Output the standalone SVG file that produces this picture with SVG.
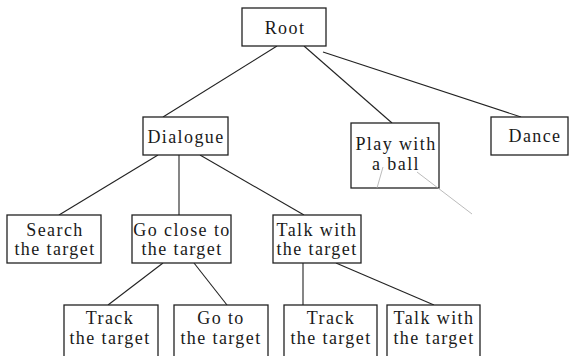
<svg xmlns="http://www.w3.org/2000/svg" width="572" height="356" viewBox="0 0 572 356">
<style>
.box{fill:#fff;stroke:#222;stroke-width:1.3}
.t{font-family:"Liberation Serif","Times New Roman",serif;font-size:18px;letter-spacing:1.4px;fill:#1a1a1a;text-anchor:middle}
.c line{stroke:#222;stroke-width:1.1}
.c line.g{stroke:#aaa;stroke-width:0.8}
</style>
<rect width="572" height="356" fill="#fff"/>
<g class="c" id="connectors">
<line x1="277" y1="46" x2="163" y2="117"/>
<line x1="304" y1="46" x2="392" y2="123"/>
<line x1="323" y1="52" x2="521" y2="117"/>
<line x1="158" y1="155" x2="59" y2="215"/>
<line x1="179" y1="155" x2="179" y2="215"/>
<line x1="200" y1="155" x2="304" y2="215"/>
<line x1="163" y1="263" x2="108" y2="305"/>
<line x1="194" y1="263" x2="227" y2="305"/>
<line x1="303" y1="263" x2="303" y2="305"/>
<line x1="336" y1="263" x2="434" y2="305"/>
</g>
<g id="root"><rect class="box" x="242" y="8" width="84" height="38"/><text class="t" x="285" y="34">Root</text></g>
<g id="dialogue"><rect class="box" x="143" y="117" width="85" height="38"/><text class="t" x="186" y="143">Dialogue</text></g>
<g id="play"><rect class="box" x="351" y="123" width="88" height="65"/><text class="t" x="396" y="150">Play with</text><text class="t" x="396" y="170">a ball</text></g>
<g id="dance"><rect class="box" x="491" y="117" width="77" height="38"/><text class="t" x="535" y="142">Dance</text></g>
<g id="search"><rect class="box" x="7" y="215" width="94" height="48"/><text class="t" x="55" y="236">Search</text><text class="t" x="55" y="255">the target</text></g>
<g id="goclose"><rect class="box" x="132" y="215" width="99" height="48"/><text class="t" x="182" y="236">Go close to</text><text class="t" x="182" y="255">the target</text></g>
<g id="talk"><rect class="box" x="273" y="215" width="88" height="48"/><text class="t" x="317" y="236">Talk with</text><text class="t" x="317" y="255">the target</text></g>
<g id="track1"><rect class="box" x="64" y="305" width="94" height="60"/><text class="t" x="110" y="324">Track</text><text class="t" x="110" y="344">the target</text></g>
<g id="goto"><rect class="box" x="174" y="305" width="94" height="60"/><text class="t" x="221" y="324">Go to</text><text class="t" x="221" y="344">the target</text></g>
<g id="track2"><rect class="box" x="284" y="305" width="93" height="60"/><text class="t" x="331" y="324">Track</text><text class="t" x="331" y="344">the target</text></g>
<g id="talk2"><rect class="box" x="387" y="305" width="93" height="60"/><text class="t" x="434" y="324">Talk with</text><text class="t" x="434" y="344">the target</text></g>
<g class="c" id="stray"><line class="g" x1="383" y1="167" x2="377" y2="188"/><line class="g" x1="417" y1="172" x2="472" y2="214"/></g>
</svg>
